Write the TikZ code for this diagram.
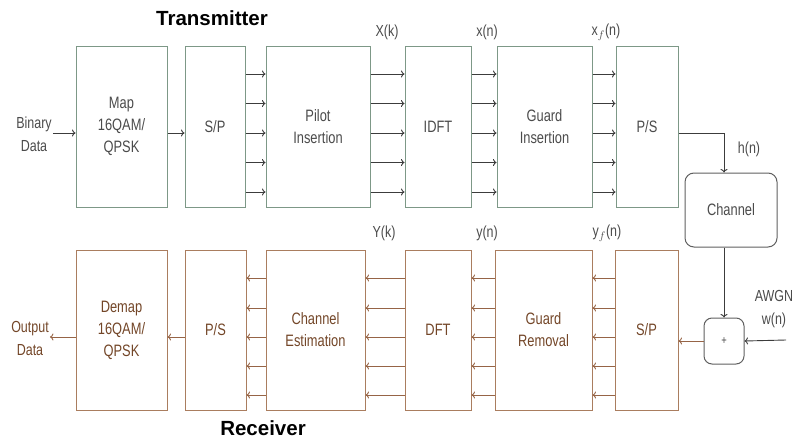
\documentclass[tikz,border=0pt]{standalone}
\usepackage{fontspec}
\setmainfont{Liberation Sans}[FakeStretch=0.78]
\newfontfamily\titlefont{Liberation Sans}
\usepackage{tikz}
\usepackage{xcolor}
\usetikzlibrary{arrows, arrows.meta, positioning}
\definecolor{txline}{RGB}{125,152,135}
\definecolor{txtext}{RGB}{75,75,75}
\definecolor{txarrow}{RGB}{60,60,60}
\definecolor{rxline}{RGB}{170,125,95}
\definecolor{rxtext}{RGB}{115,70,40}
\definecolor{rxarrow}{RGB}{150,100,70}
\definecolor{chline}{RGB}{95,95,95}

\begin{document}
\begin{tikzpicture}[x=1pt, y=-1pt,
        txbox/.style={rectangle, draw=txline, line width=1pt, minimum height=161pt, inner sep=1pt, align=center, text=txtext, font=\fontsize{16.5}{22}\selectfont},
        rxbox/.style={rectangle, draw=rxline, line width=1pt, minimum height=160pt, inner sep=1pt, align=center, text=rxtext, font=\fontsize{16.5}{22}\selectfont},
        chbox/.style={rectangle, draw=chline, line width=1pt, rounded corners=9pt, align=center, text=txtext, font=\fontsize{16.5}{18}\selectfont},
        arrow/.style={-{To[length=3.5pt,width=7pt]}, line width=0.9pt, color=txarrow},
        rxarr/.style={-{To[length=3.5pt,width=7pt]}, line width=0.9pt, color=rxarrow},
        lab/.style={font=\fontsize{16}{23}\selectfont, text=txtext, align=center, inner sep=1pt},
        title/.style={font=\fontsize{20.5}{24}\selectfont\titlefont\bfseries, text=black, anchor=base, inner sep=0pt}
    ]
    \useasboundingbox (0,0) rectangle (797,439);

    % Transmissor
    \node (tx)    [title] at (212,25) {Transmitter};
    \node (bin)   [lab] at (34,134) {Binary\\Data};
    \node (map)   [txbox, minimum width=91pt] at (121.5,126.5) {Map\\16QAM/\\QPSK};
    \node (sp)    [txbox, minimum width=60pt] at (215,126.5)   {S/P};
    \node (pilot) [txbox, minimum width=104pt] at (318,126.5)  {Pilot\\Insertion};
    \node (idft)  [txbox, minimum width=66pt] at (438,126.5)   {IDFT};
    \node (guard) [txbox, minimum width=95pt] at (544.5,126.5) {Guard\\Insertion};
    \node (ps)    [txbox, minimum width=62pt] at (647,126.5)   {P/S};
    \node (lXk)   [lab] at (387,32) {X(k)};
    \node (lxn)   [lab] at (487,32) {x(n)};
    \node (lxfn)  [lab] at (606,32) {x$_f$(n)};

    % Canal
    \node (chan)  [chbox, minimum width=92pt, minimum height=74pt] at (731,210) {Channel};
    \node (hn)    [lab] at (749,149) {h(n)};
    \node (plus)  [chbox, minimum width=40pt, minimum height=46pt, rounded corners=8pt, font=\fontsize{12}{14}\selectfont] at (724,341) {+};
    \node (awgn)  [lab] at (774,309) {AWGN\\w(n)};
    \coordinate (noise) at (786,340);

    % Receptor
    \node (rx)    [title] at (263,435) {Receiver};
    \node (out)   [lab, text=rxtext] at (30,338) {Output\\Data};
    \node (demap) [rxbox, minimum width=91pt] at (121.5,330) {Demap\\16QAM/\\QPSK};
    \node (rps)   [rxbox, minimum width=61pt] at (215.5,330)  {P/S};
    \node (est)   [rxbox, minimum width=99pt] at (315.5,330)  {Channel\\Estimation};
    \node (dft)   [rxbox, minimum width=66pt] at (438,330)    {DFT};
    \node (grem)  [rxbox, minimum width=97pt] at (543.5,330)  {Guard\\Removal};
    \node (rsp)   [rxbox, minimum width=63pt] at (646.5,330)  {S/P};
    \node (lYk)   [lab] at (384,233) {Y(k)};
    \node (lyn)   [lab] at (487,233) {y(n)};
    \node (lyfn)  [lab] at (607,233) {y$_f$(n)};

    % Setas
    \draw [arrow] (bin.east |- 0,133) -- ([yshift=-6.5pt]map.west);
    \draw [arrow] ([yshift=-6.5pt]map.east) -- ([yshift=-6.5pt]sp.west);
    \foreach \a/\b in {sp/pilot, pilot/idft, idft/guard, guard/ps}
        \foreach \o in {52.5,23,-6.5,-36,-65.5}
            \draw [arrow] ([yshift=\o pt]\a.east) -- ([yshift=\o pt]\b.west);
    \draw [arrow] ([yshift=-6.5pt]ps.east) -| (plus.north |- chan.north);
    \draw [arrow] (plus.north |- chan.south) -- (plus.north);
    \draw [arrow] (noise) -- (plus.east);
    \draw [rxarr] (plus.west) -- (rsp.east |- plus.west);
    \foreach \a/\b in {est/dft, dft/grem, grem/rsp, rps/est}
        \foreach \o in {52,22,-7,-36,-65}
            \draw [rxarr] ([yshift=\o pt]\b.west) -- ([yshift=\o pt]\a.east);
    \draw [rxarr] ([yshift=-7pt]rps.west) -- ([yshift=-7pt]demap.east);
    \draw [rxarr] ([yshift=-7pt]demap.west) -- (out.east |- 0,337);

    \end{tikzpicture}
\end{document}
